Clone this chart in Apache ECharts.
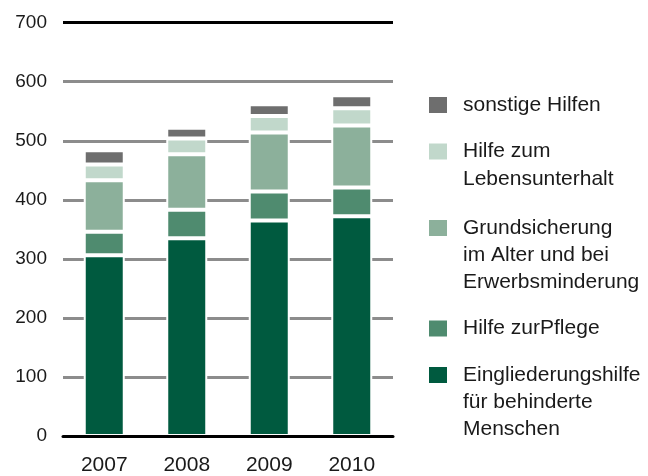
<!DOCTYPE html>
<html>
<head>
<meta charset="utf-8">
<script src="https://cdn.jsdelivr.net/npm/echarts@6/dist/echarts.min.js"></script>
<style>
    html, body { margin: 0; padding: 0; background: #fff; }
    #chart { width: 648px; height: 476px; }
</style>
</head>
<body>
<div id="chart"></div>
<script>
const years = ["2007", "2008", "2009", "2010"];
const yTicks = [0, 100, 200, 300, 400, 500, 600, 700];

// stacked from the bottom up
const eingliederung = [306, 335, 365, 372];
const pflege = [40, 48, 49, 49];
const grundsicherung = [87, 94, 100, 105];
const lebensunterhalt = [27, 27, 28, 29];
const sonstige = [24, 18, 20, 22];

const seriesNames = [
    "Eingliederungshilfe\nfür behinderte\nMenschen",
    "Hilfe zurPflege",
    "Grundsicherung\nim Alter und bei\nErwerbsminderung",
    "Hilfe zum\nLebensunterhalt",
    "sonstige Hilfen"
];
const seriesData = [eingliederung, pflege, grundsicherung, lebensunterhalt, sonstige];
const colors = ["#005a3f", "#4f8b6f", "#8cb09b", "#c1d8cb", "#6e6e6e"];

const font = "'Liberation Sans', Arial, sans-serif";
const textColor = "#1a1a1a";
const lineH = 27.3;

const chart = echarts.init(document.getElementById("chart"));

// one legend per entry; icon centre y for each, icon sits beside the first text line
const legendIconY = [
    ["sonstige Hilfen", 105],
    ["Hilfe zum\nLebensunterhalt", 151.5],
    ["Grundsicherung\nim Alter und bei\nErwerbsminderung", 228],
    ["Hilfe zurPflege", 328.5],
    ["Eingliederungshilfe\nfür behinderte\nMenschen", 375]
];

const legends = legendIconY.map(([name, y]) => {
    const lines = name.split("\n").length;
    return {
        data: [name],
        left: 427,
        top: y - (2 * lines - 1) * lineH / 2,
        padding: 0,
        itemWidth: 20,
        itemHeight: 18,
        icon: "rect",
        selectedMode: false,
        // blank lines in front so the first real line is centred on the icon
        formatter: n => "\n".repeat(lines - 1) + n,
        textStyle: {
            fontFamily: font,
            fontSize: 21,
            color: textColor,
            lineHeight: lineH,
            padding: [0, 0, 0, 10]
        }
    };
});

chart.setOption({
    animation: false,
    color: colors,
    legend: legends,
    grid: {left: 63, right: 255, top: 22.7, bottom: 39.3, containLabel: false},
    xAxis: {
        type: "category",
        data: years,
        z: 3,
        axisLine: {lineStyle: {color: "#000", width: 3}},
        axisTick: {show: false},
        axisLabel: {fontFamily: font, fontSize: 21, color: textColor, margin: 19}
    },
    yAxis: {
        type: "value",
        min: yTicks[0],
        max: yTicks[yTicks.length - 1],
        interval: 100,
        axisLine: {show: false},
        axisTick: {show: false},
        axisLabel: {fontFamily: font, fontSize: 19, color: textColor, margin: 16},
        splitLine: {
            lineStyle: {
                width: 3,
                color: yTicks.map((t, i) => i === yTicks.length - 1 ? "#000" : "#8c8c8c")
            }
        }
    },
    series: seriesData.map((data, i) => ({
        name: seriesNames[i],
        type: "bar",
        stack: "total",
        barWidth: 41,
        data,
        itemStyle: {color: colors[i], borderColor: "#fff", borderWidth: 2}
    }))
});
</script>
</body>
</html>
